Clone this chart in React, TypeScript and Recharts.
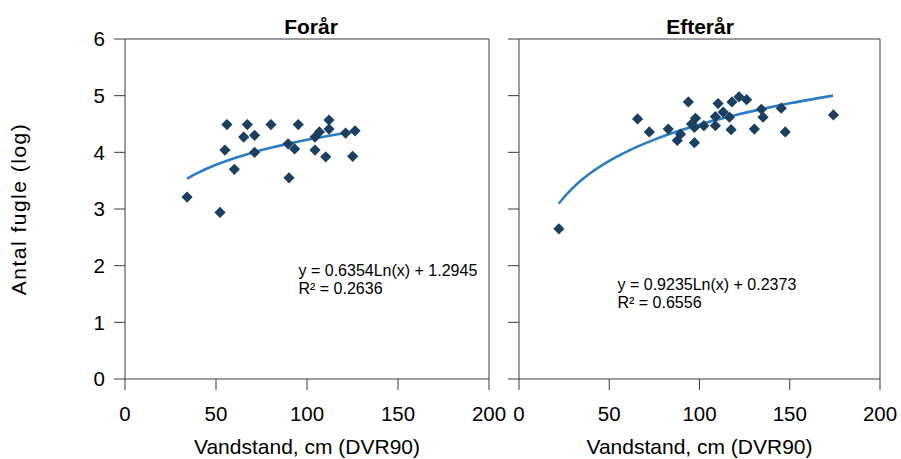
import { ComposedChart, Scatter, Line, XAxis, YAxis, ReferenceLine } from 'recharts';

const X_TICKS = [0, 50, 100, 150, 200];
const Y_TICKS = [0, 1, 2, 3, 4, 5, 6];

// Forår (spring) observations
const springX = [34.1, 52.2, 56.0, 54.9, 60.1, 67.2, 65.2, 71.2, 71.2, 80.2, 89.6, 90.1, 93.2, 95.2, 104.4, 104.4, 106.8, 110.3, 112.1, 112.1, 121.2, 125.1, 126.4];
const springY = [3.21, 2.94, 4.49, 4.04, 3.70, 4.49, 4.27, 4.30, 4.00, 4.49, 4.15, 3.55, 4.06, 4.49, 4.04, 4.27, 4.36, 3.92, 4.57, 4.41, 4.34, 3.93, 4.38];
// log trendline, y = 0.6354Ln(x) + 1.2945
const springFitX = [34, 40, 50, 60, 70, 80, 90, 100, 110, 120, 127];
const springFitY = [3.535, 3.638, 3.780, 3.896, 3.994, 4.079, 4.154, 4.221, 4.281, 4.336, 4.372];

// Efterår (autumn) observations
const autumnX = [22.1, 65.7, 72.2, 82.7, 87.7, 89.5, 93.8, 95.6, 97.8, 97.2, 97.2, 102.4, 108.8, 108.8, 110.3, 113.1, 116.6, 117.5, 118.0, 121.9, 126.1, 130.4, 134.3, 135.2, 145.3, 147.5, 174.2];
const autumnY = [2.65, 4.59, 4.36, 4.41, 4.21, 4.32, 4.89, 4.50, 4.60, 4.44, 4.17, 4.47, 4.47, 4.63, 4.86, 4.71, 4.62, 4.40, 4.89, 4.98, 4.93, 4.41, 4.76, 4.62, 4.78, 4.36, 4.66];
// log trendline, y = 0.9235Ln(x) + 0.2373
const autumnFitX = [22, 24, 27, 30, 35, 40, 50, 60, 75, 90, 105, 120, 135, 150, 165, 174];
const autumnFitY = [3.092, 3.172, 3.281, 3.378, 3.520, 3.644, 3.850, 4.018, 4.224, 4.393, 4.535, 4.658, 4.767, 4.865, 4.952, 5.001];

const zip = (xs: number[], ys: number[]) => xs.map((x, i) => ({ x, y: ys[i] }));

const NAVY = '#1b3f5f';
const TREND = '#2a7cc6';
const AXIS = '#3a3a3a';
const FONT = '"Liberation Sans", Arial, sans-serif';

const Diamond = (p: any) => {
  const { cx, cy } = p;
  const r = 5.6;
  return <path d={`M${cx},${cy - r}L${cx + r},${cy}L${cx},${cy + r}L${cx - r},${cy}Z`} fill={NAVY} />;
};

function Panel({ points, fit, width, yWidth, right, showYLabels }: {
  points: { x: number; y: number }[]; fit: { x: number; y: number }[];
  width: number; yWidth: number; right: number; showYLabels: boolean;
}) {
  return (
    <ComposedChart width={width} height={459} margin={{ top: 39, right, bottom: 50, left: 0 }}>
      <XAxis
        type="number" dataKey="x" domain={[0, 200]} ticks={X_TICKS} allowDataOverflow
        height={30} tickSize={11} tickMargin={16}
        stroke={AXIS} tick={{ fill: '#000', fontSize: 20.5 }}
        label={{ value: 'Vandstand, cm (DVR90)', position: 'bottom', offset: 30, fill: '#000', fontSize: 21 }}
      />
      <YAxis
        type="number" dataKey="y" domain={[0, 6]} ticks={Y_TICKS} allowDataOverflow
        width={yWidth} tickSize={11} tickMargin={9}
        stroke={AXIS} tick={{ fill: '#000', fontSize: 20.5 }}
        tickFormatter={showYLabels ? undefined : () => ''}
        label={showYLabels ? {
          value: 'Antal fugle (log)', angle: -90, position: 'insideLeft', offset: 19,
          style: { textAnchor: 'middle', letterSpacing: '1.5px' }, fill: '#000', fontSize: 21,
        } : undefined}
      />
      <ReferenceLine y={6} stroke={AXIS} strokeWidth={1} />
      <ReferenceLine x={200} stroke={AXIS} strokeWidth={1} />
      <Line data={fit} dataKey="y" type="monotone" stroke={TREND} strokeWidth={2.6} dot={false} isAnimationActive={false} />
      <Scatter data={points} dataKey="y" shape={Diamond} isAnimationActive={false} />
    </ComposedChart>
  );
}

const eqStyle: React.CSSProperties = {
  position: 'absolute', fontSize: 16, lineHeight: '18.3px', color: '#000', whiteSpace: 'nowrap',
};
const titleStyle: React.CSSProperties = {
  position: 'absolute', top: 15.5, width: 200, textAlign: 'center', fontSize: 21, lineHeight: 1,
  fontWeight: 'bold', color: '#000',
};

export default function App() {
  return (
    <div style={{ position: 'fixed', left: 0, top: 0, width: 901, height: 459, background: '#fff', fontFamily: FONT }}>
      <div style={{ position: 'absolute', left: 0, top: 0 }}>
        <Panel points={zip(springX, springY)} fit={zip(springFitX, springFitY)} width={515} yWidth={125} right={26} showYLabels />
      </div>
      <div style={{ position: 'absolute', left: 500, top: 0 }}>
        <Panel points={zip(autumnX, autumnY)} fit={zip(autumnFitX, autumnFitY)} width={401} yWidth={19} right={21} showYLabels={false} />
      </div>
      <div style={{ ...titleStyle, left: 211 }}>Forår</div>
      <div style={{ ...titleStyle, left: 600 }}>Efterår</div>
      <div style={{ ...eqStyle, left: 298.5, top: 262 }}>
        y = 0.6354Ln(x) + 1.2945<br />R² = 0.2636
      </div>
      <div style={{ ...eqStyle, left: 617.5, top: 276 }}>
        y = 0.9235Ln(x) + 0.2373<br />R² = 0.6556
      </div>
    </div>
  );
}
